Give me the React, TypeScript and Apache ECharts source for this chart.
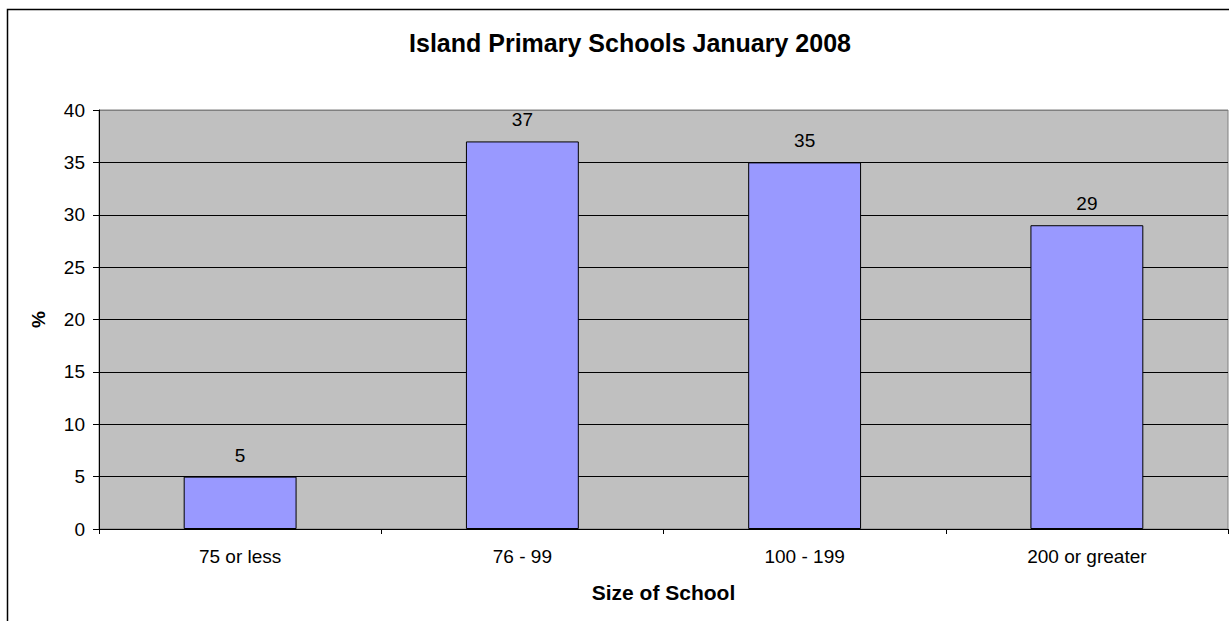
import React, { useEffect, useRef } from "react";
import * as echarts from "echarts";

const categories = ["75 or less", "76 - 99", "100 - 199", "200 or greater"];
const values = [5, 37, 35, 29];
const yTicks = [0, 5, 10, 15, 20, 25, 30, 35, 40];

export default function App() {
  const ref = useRef<HTMLDivElement>(null);
  useEffect(() => {
    document.body.style.margin = "0";
    const chart = echarts.init(ref.current!, null, { renderer: "svg" });
    const font = "'Liberation Sans', Arial, sans-serif";
    chart.setOption({
      animation: false,
      backgroundColor: "#ffffff",
      textStyle: { fontFamily: font },
      title: {
        text: "Island Primary Schools January 2008",
        left: 630,
        top: 30,
        padding: 0,
        textAlign: "center",
        textStyle: { fontSize: 25, fontWeight: "bold", color: "#000", fontFamily: font },
      },
      graphic: [
        {
          type: "rect",
          shape: { x: 7.5, y: 9.5, width: 1400, height: 800 },
          style: { fill: "none", stroke: "#000", lineWidth: 1.5 },
          silent: true,
          z: 100,
        },
      ],
      grid: {
        left: 99,
        top: 110,
        width: 1129,
        height: 419,
        show: true,
        backgroundColor: "#C0C0C0",
        borderColor: "#808080",
        borderWidth: 1,
      },
      xAxis: {
        type: "category",
        data: categories,
        boundaryGap: true,
        name: "Size of School",
        nameLocation: "middle",
        nameGap: 53,
        nameTextStyle: { fontSize: 21, fontWeight: "bold", color: "#000", fontFamily: font },
        axisLine: { show: true, lineStyle: { color: "#000", width: 1 } },
        axisTick: { show: true, alignWithLabel: false, length: 5, lineStyle: { color: "#000" } },
        axisLabel: { fontSize: 19, color: "#000", margin: 18, fontFamily: font },
        splitLine: { show: false },
      },
      yAxis: {
        type: "value",
        min: 0,
        max: 40,
        interval: 5,
        name: "%",
        nameLocation: "middle",
        nameGap: 51,
        nameRotate: 90,
        nameTextStyle: { fontSize: 19, fontWeight: "bold", color: "#000", fontFamily: font },
        axisLine: { show: true, lineStyle: { color: "#000", width: 1 } },
        axisTick: { show: true, length: 6, lineStyle: { color: "#000" } },
        axisLabel: {
          fontSize: 19,
          color: "#000",
          margin: 14,
          fontFamily: font,
          formatter: (v: number) => (yTicks.includes(v) ? String(v) : ""),
        },
        splitLine: {
          show: true,
          lineStyle: {
            color: ["#000", "#000", "#000", "#000", "#000", "#000", "#000", "#000", "#808080"],
            width: 1,
          },
        },
      },
      series: [
        {
          type: "bar",
          data: values,
          barCategoryGap: "60%",
          itemStyle: { color: "#9999FF", borderColor: "#000", borderWidth: 1 },
          label: {
            show: true,
            position: "top",
            distance: 12,
            fontSize: 19,
            color: "#000",
            fontFamily: font,
          },
        },
      ],
    });
    return () => chart.dispose();
  }, []);
  return <div ref={ref} style={{ width: 1229, height: 621 }} />;
}
